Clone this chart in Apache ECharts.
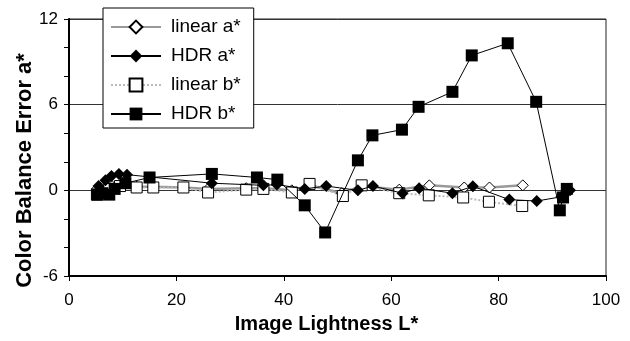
<!DOCTYPE html>
<html>
<head>
<meta charset="utf-8">
<script src="https://cdn.jsdelivr.net/npm/echarts@6/dist/echarts.min.js"></script>
<style>
  html, body { margin: 0; padding: 0; background: #fff; }
  #chart { width: 630px; height: 341px; }
</style>
</head>
<body>
<div id="chart"></div>
<script>
// [L*, error] pairs
const linearA = [[5.2, 0.1], [6.5, 0.4], [8, 0.3], [10, 0.5], [12.6, 0.25], [15.7, 0.25], [21.3, 0.2], [25.9, 0.1], [33, 0.15], [36.2, 0.15], [41.5, 0], [44.8, 0.35], [50.8, -0.2], [54.5, 0.3], [61.5, 0.05], [67.1, 0.35], [73.6, 0.2], [78.3, 0.2], [84.5, 0.35]]
const hdrA = [[5.5, 0.3], [6.8, 0.7], [7.9, 1.0], [9.3, 1.15], [10.8, 1.1], [26.6, 0.5], [36.2, 0.35], [38.7, 0.4], [43.9, 0.1], [47.9, 0.3], [53.8, 0], [56.6, 0.3], [62.1, -0.2], [65.2, 0.15], [71.4, -0.2], [75.2, 0.28], [82, -0.65], [87.1, -0.75], [91.7, -0.45], [93.3, 0]]
const linearB = [[5.2, -0.3], [6.2, -0.1], [7.5, 0.1], [9.5, 0.3], [12.6, 0.2], [15.7, 0.2], [21.3, 0.2], [25.9, -0.15], [33, 0.05], [36.2, 0.1], [41.5, -0.15], [44.8, 0.45], [51, -0.4], [54.5, 0.35], [61.5, -0.2], [67, -0.35], [73.4, -0.5], [78.2, -0.8], [84.4, -1.1]]
const hdrB = [[5.3, -0.3], [6.2, -0.2], [7.5, -0.3], [8.5, 0.1], [10.5, 0.5], [15, 0.9], [26.6, 1.15], [35, 0.9], [38.8, 0.75], [43.9, -1.05], [47.7, -2.95], [53.8, 2.1], [56.5, 3.85], [62, 4.25], [65.1, 5.85], [71.4, 6.9], [75, 9.45], [81.7, 10.3], [87, 6.2], [91.4, -1.4], [92, -0.5], [92.7, 0.1]]

const seriesNames = ['linear a*', 'HDR a*', 'linear b*', 'HDR b*']
const xTicks = { min: 0, max: 100, interval: 20 }
const yTicks = { min: -6, max: 12, interval: 6 }

const font = "'Liberation Sans', Arial, sans-serif"

const chart = echarts.init(document.getElementById('chart'))
const option = {
  animation: false,
  textStyle: { fontFamily: font },
  grid: {
    left: 69, right: 24, top: 19, bottom: 65,
    outerBoundsMode: 'none',
    show: true,
    borderColor: '#222',
    borderWidth: 1
  },
  legend: {
    data: seriesNames,
    orient: 'vertical',
    left: 103,
    top: 8,
    padding: [9, 13, 4, 7],
    itemWidth: 50,
    itemHeight: 16,
    itemGap: 9,
    backgroundColor: '#fff',
    borderColor: '#000',
    borderWidth: 1,
    borderRadius: 0,
    textStyle: { fontSize: 19, lineHeight: 20, color: '#000', fontFamily: font, padding: [0, 0, 0, 5] }
  },
  xAxis: {
    type: 'value',
    ...xTicks,
    name: 'Image Lightness L*',
    nameLocation: 'middle',
    nameGap: 38,
    nameMoveOverlap: false,
    // titles sit a bit off the plot centre in the original
    nameTextStyle: { fontSize: 20, fontWeight: 'bold', color: '#000', padding: [0, 22, 0, 0] },
    axisLine: { onZero: false, lineStyle: { color: '#000', width: 2 } },
    axisTick: { show: true, length: 5, lineStyle: { color: '#000' } },
    axisLabel: { fontSize: 17, color: '#000', margin: 16 },
    splitLine: { show: false }
  },
  yAxis: {
    type: 'value',
    ...yTicks,
    name: 'Color Balance Error a*',
    nameLocation: 'middle',
    nameGap: 33,
    nameMoveOverlap: false,
    nameTextStyle: { fontSize: 22, fontWeight: 'bold', color: '#000', padding: [0, 46, 0, 0] },
    axisLine: { show: true, lineStyle: { color: '#000', width: 2 } },
    axisTick: { show: true, length: 5, lineStyle: { color: '#000' } },
    minorTick: { show: true, splitNumber: 3, length: 5, lineStyle: { color: '#000' } },
    axisLabel: { fontSize: 17, color: '#000', margin: 11 },
    splitLine: { show: true, lineStyle: { color: '#333', width: 1 } }
  },
  series: [
    {
      name: seriesNames[0], type: 'line', data: linearA,
      symbol: 'diamond', symbolSize: 11,
      itemStyle: { color: '#fff', borderColor: '#000', borderWidth: 1 },
      lineStyle: { color: '#999', width: 2.5 },
      z: 2
    },
    {
      name: seriesNames[1], type: 'line', data: hdrA,
      symbol: 'diamond', symbolSize: 12,
      itemStyle: { color: '#000', borderColor: '#000', borderWidth: 0 },
      lineStyle: { color: '#000', width: 1 },
      z: 3
    },
    {
      name: seriesNames[2], type: 'line', data: linearB,
      symbol: 'rect', symbolSize: 11,
      itemStyle: { color: '#fff', borderColor: '#000', borderWidth: 1 },
      lineStyle: { color: '#bbb', width: 2, type: 'dotted' },
      z: 2
    },
    {
      name: seriesNames[3], type: 'line', data: hdrB,
      symbol: 'rect', symbolSize: 12,
      itemStyle: { color: '#000', borderColor: '#000', borderWidth: 0 },
      lineStyle: { color: '#000', width: 1 },
      z: 4
    }
  ]
}
chart.setOption(option)
</script>
</body>
</html>
